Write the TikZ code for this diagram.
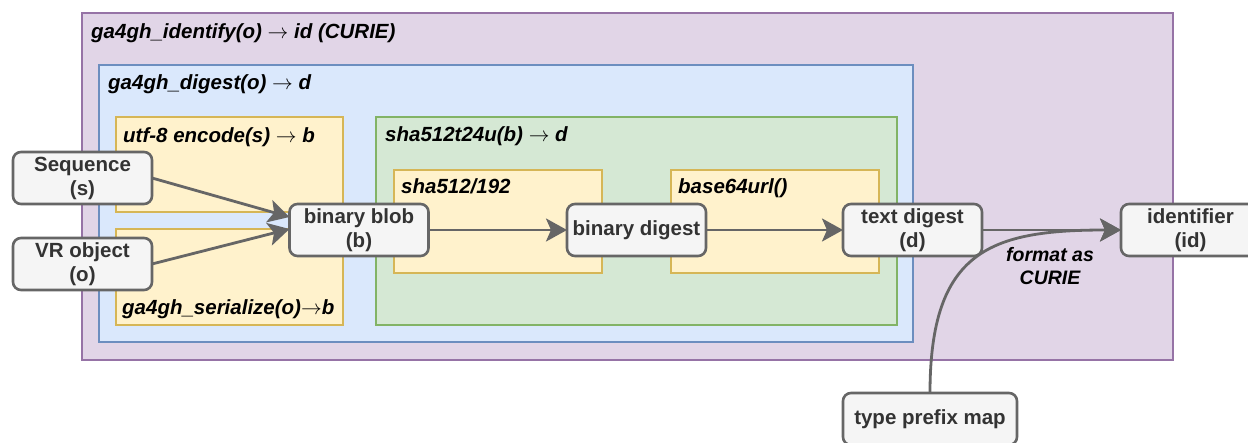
\documentclass[tikz,border=0pt]{standalone}
\usepackage{fontspec}
\setmainfont{Liberation Sans}
\usetikzlibrary{arrows.meta,calc}
\definecolor{purpF}{HTML}{E1D5E7}
\definecolor{purpD}{HTML}{9673A6}
\definecolor{blueF}{HTML}{DAE8FC}
\definecolor{blueD}{HTML}{6C8EBF}
\definecolor{yellF}{HTML}{FFF2CC}
\definecolor{yellD}{HTML}{D6B656}
\definecolor{grnF}{HTML}{D5E8D4}
\definecolor{grnD}{HTML}{82B366}
\definecolor{nodeF}{HTML}{F5F5F5}
\definecolor{nodeD}{HTML}{666666}
\definecolor{nodeT}{HTML}{333333}
\definecolor{edgeC}{HTML}{666666}
\newcommand{\myarr}{\ensuremath{\rightarrow}}
\tikzset{
  container/.style={line width=2pt, anchor=north west, inner sep=0pt, outer sep=0pt},
  lbl/.style={anchor=base west, font=\bfseries\itshape\fontsize{20.5}{24}\selectfont, inner sep=0pt, text=black},
  proc/.style={draw=nodeD, fill=nodeF, rounded corners=8pt, line width=2.6pt,
    minimum width=139pt, minimum height=52pt, align=center, text=nodeT,
    font=\bfseries\fontsize{20.5}{24}\selectfont, inner sep=0pt, outer sep=0pt},
  flow/.style={draw=edgeC, line width=2.8pt, -{Stealth[length=21pt,width=23pt,inset=5pt]}},
}
\begin{document}
\begin{tikzpicture}[x=1pt,y=-1pt]
\useasboundingbox (0,0) rectangle (1248,443);
% containers
\node[container, draw=purpD, fill=purpF, minimum width=1091pt, minimum height=347pt] (ident) at (82,13) {};
\node[lbl] (identlbl) at (91,39) {ga4gh\_identify(o) \myarr{} id (CURIE)};
\node[container, draw=blueD, fill=blueF, minimum width=814pt, minimum height=277pt] (dig) at (99,65) {};
\node[lbl] (diglbl) at (108,90) {ga4gh\_digest(o) \myarr{} d};
\node[container, draw=yellD, fill=yellF, minimum width=227pt, minimum height=95pt] (utf) at (116,117) {};
\node[lbl] (utflbl) at (123,143) {utf-8 encode(s) \myarr{} b};
\node[container, draw=yellD, fill=yellF, minimum width=227pt, minimum height=96pt] (ser) at (116,229) {};
\node[lbl] (serlbl) at (122,315) {ga4gh\_serialize(o)\myarr{}b};
\node[container, draw=grnD, fill=grnF, minimum width=521pt, minimum height=208pt] (sha) at (376,117) {};
\node[lbl] (shalbl) at (385,142) {sha512t24u(b) \myarr{} d};
\node[container, draw=yellD, fill=yellF, minimum width=208pt, minimum height=103pt] (sha192) at (394,170) {};
\node[lbl] (sha192lbl) at (401,194) {sha512/192};
\node[container, draw=yellD, fill=yellF, minimum width=208pt, minimum height=103pt] (b64) at (671,170) {};
\node[lbl] (b64lbl) at (678,194) {base64url()};
% process nodes
\node[proc] (seq) at (82.5,178) {Sequence\\(s)};
\node[proc] (vr) at (82.5,264) {VR object\\(o)};
\node[proc] (blob) at (359,230) {binary blob\\(b)};
\node[proc] (bdig) at (636.5,230) {binary digest};
\node[proc] (tdig) at (912.5,230) {text digest\\(d)};
\node[proc] (idnode) at (1190.5,230) {identifier\\(id)};
\node[proc, minimum width=174pt] (tpm) at (930,419) {type prefix map};
% edges
\draw[flow] (seq.east) -- ($(blob.west)+(0,-13)$);
\draw[flow] (vr.east) -- ($(blob.west)+(0,-1)$);
\draw[flow] (blob) -- (bdig);
\draw[flow] (bdig) -- (tdig);
\draw[flow] (tdig) -- (idnode);
\draw[flow] (tpm.north) .. controls ($(tpm.north)+(0,-143)$) and ($(idnode.west)+(-130,0)$) .. (idnode.west);
\node[font=\bfseries\itshape\fontsize{19.5}{23}\selectfont, align=center, inner sep=0pt] (fmt) at (1050,266) {format as\\CURIE};
\end{tikzpicture}
\end{document}
